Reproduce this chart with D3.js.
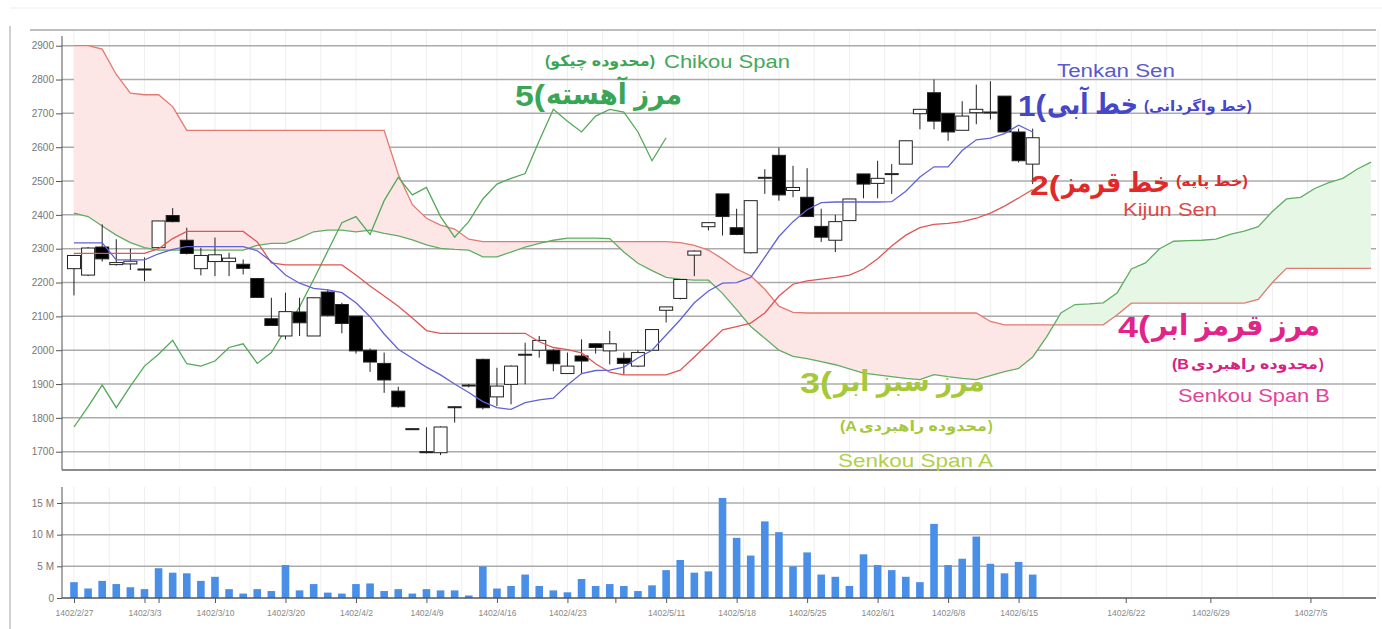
<!DOCTYPE html>
<html><head><meta charset="utf-8">
<script src="https://cdn.jsdelivr.net/npm/d3@7"></script>
<style>
html,body{margin:0;padding:0;background:#fff;}
svg{display:block;font-family:Arial,"Liberation Sans","DejaVu Sans",sans-serif;}
</style></head>
<body><svg id="c" width="1382" height="629"></svg>
<script>
// ---------------- data ----------------
const opens  = [2241,2222,2305,2253,2255,2240,2303,2398,2325,2241,2262,2262,2254,2212,2093,2042,2113,2042,2172,2135,2101,2000,1961,1879,1768,1700,1697,1830,1895,1973,1862,1899,1985,2000,2000,1931,1983,2019,1998,1976,1953,2000,2118,2153,2281,2365,2462,2362,2288,2510,2576,2472,2452,2366,2325,2383,2521,2493,2520,2550,2699,2761,2700,2650,2702,2703,2751,2645,2550];
const highs  = [2282,2305,2372,2328,2300,2274,2382,2420,2362,2303,2333,2288,2268,2212,2155,2170,2155,2155,2180,2140,2101,2005,1993,1892,1770,1772,1775,1835,1900,1975,1948,1955,2022,2042,2003,1993,2032,2020,2057,1993,2000,2061,2128,2210,2295,2378,2462,2418,2442,2535,2599,2545,2538,2418,2400,2447,2521,2560,2550,2619,2712,2800,2700,2736,2785,2795,2751,2655,2655];
const lows   = [2162,2219,2262,2250,2237,2204,2300,2378,2283,2221,2219,2219,2224,2156,2073,2032,2042,2042,2100,2050,1990,1936,1874,1830,1765,1695,1690,1786,1890,1825,1835,1840,1899,1978,1938,1930,1929,1990,1958,1929,1950,1998,2082,2150,2219,2354,2339,2340,2286,2462,2442,2452,2395,2320,2290,2382,2449,2449,2462,2550,2653,2653,2619,2650,2668,2682,2645,2555,2491];
const closes = [2280,2302,2270,2259,2263,2237,2382,2380,2286,2280,2282,2272,2242,2156,2073,2114,2081,2155,2103,2079,1998,1965,1912,1833,1766,1697,1773,1833,1897,1830,1894,1953,1988,2029,1960,1953,1968,2008,2019,1961,1993,2061,2128,2209,2293,2377,2395,2342,2442,2511,2459,2481,2395,2334,2380,2447,2491,2508,2522,2619,2712,2677,2645,2692,2712,2704,2645,2560,2628];
const volumesM = [2.5,1.5,2.7,2.2,1.7,1.4,4.7,4.0,3.9,2.7,3.35,1.4,0.7,1.4,1.1,5.2,1.2,2.2,0.85,0.7,2.2,2.3,1.1,1.4,0.7,1.4,1.2,1.2,0.4,5.0,1.5,1.9,3.7,1.9,1.2,0.9,3.0,1.9,2.2,1.9,1.1,2.0,4.4,6.0,4.0,4.2,15.8,9.5,6.7,12.1,10.4,5.0,7.2,3.7,3.35,1.9,6.9,5.2,4.4,3.35,2.5,11.7,5.2,6.2,9.7,5.4,3.9,5.7,3.7];
const tenkanSen = [2317,2317,2317,2267,2267,2267,2285,2298,2306,2306,2306,2306,2306,2294,2262,2222,2198,2183,2178,2170,2140,2099,2048,2003,1976,1950,1927,1900,1875,1848,1830,1825,1845,1853,1858,1897,1931,1940,1941,1950,1977,2000,2045,2090,2140,2175,2198,2200,2215,2275,2336,2380,2415,2436,2438,2438,2438,2438,2439,2470,2512,2542,2542,2590,2622,2627,2640,2665,2645];
const kijunSen = [2286,2286,2286,2286,2286,2286,2300,2330,2351,2351,2351,2351,2351,2320,2258,2252,2252,2252,2252,2252,2222,2190,2160,2130,2095,2058,2050,2050,2050,2050,2050,2050,2050,2025,2008,2002,1992,1960,1935,1927,1927,1927,1927,1941,1980,2020,2060,2070,2080,2110,2160,2195,2205,2210,2215,2222,2240,2270,2308,2340,2362,2372,2375,2380,2390,2405,2426,2450,2475];
const senkouA = [2405,2395,2367,2340,2318,2303,2296,2296,2296,2296,2296,2296,2296,2310,2316,2316,2331,2350,2355,2355,2350,2355,2345,2338,2326,2311,2301,2298,2296,2276,2276,2290,2305,2316,2325,2331,2331,2331,2330,2290,2257,2235,2215,2210,2207,2207,2168,2120,2070,2035,2000,1982,1975,1966,1957,1945,1932,1927,1922,1917,1913,1928,1922,1917,1913,1925,1937,1946,1980,2040,2110,2135,2137,2140,2170,2240,2258,2300,2322,2324,2325,2328,2342,2352,2365,2410,2447,2452,2478,2495,2508,2535,2556];
const senkouB = [2900,2900,2890,2815,2760,2755,2755,2720,2650,2650,2650,2650,2650,2650,2650,2650,2650,2650,2650,2650,2650,2650,2650,2520,2430,2390,2370,2358,2328,2321,2321,2321,2321,2321,2321,2321,2321,2321,2321,2321,2321,2321,2321,2318,2310,2296,2270,2240,2220,2180,2130,2112,2110,2110,2110,2110,2110,2110,2110,2110,2110,2110,2110,2110,2110,2085,2075,2075,2075,2075,2075,2075,2075,2075,2105,2139,2139,2139,2139,2139,2139,2139,2139,2139,2150,2200,2242,2242,2242,2242,2242,2242,2242];
const chikouSpan = [1773,1833,1897,1830,1894,1953,1988,2029,1960,1953,1968,2008,2019,1961,1993,2061,2128,2209,2293,2377,2395,2342,2442,2511,2459,2481,2395,2334,2380,2447,2491,2508,2522,2619,2712,2677,2645,2692,2712,2704,2645,2560,2628];
const priceTicks = [1700,1800,1900,2000,2100,2200,2300,2400,2500,2600,2700,2800,2900];
const volumeTicks = [0,5,10,15];
const volumeTickLabels = ["0","5 M","10 M","15 M"];
const dateTickPos = [0,5,6,10,15,20,25,30,35,38.4,42,47,52,57,62,67,74.6,80.6,87.7];
const dateTickLabels = ["1402/2/27","1402/3/3","","1402/3/10","1402/3/20","1402/4/2","1402/4/9","1402/4/16","1402/4/23","","1402/5/11","1402/5/18","1402/5/25","1402/6/1","1402/6/8","1402/6/15","1402/6/22","1402/6/29","1402/7/5"];

// ---------------- layout ----------------
const svg = d3.select('#c');
const L = 62, R = 1376, T = 30, B = 470;
const VT = 487, VB = 598;
const x = d3.scaleLinear().domain([-0.85, 92.35]).range([L, R]);
const y = d3.scaleLinear().domain([1700, 2900]).range([451.7, 45.7]);
const yv = d3.scaleLinear().domain([0, 15]).range([VB, 503]);

// outer frame
svg.append('line').attr('x1',10).attr('x2',10).attr('y1',26).attr('y2',629).attr('stroke','#d0d0d0').attr('stroke-width',2);
svg.append('line').attr('x1',10).attr('x2',1382).attr('y1',8).attr('y2',8).attr('stroke','#eeeeee').attr('stroke-width',1);

const defs = svg.append('defs');
defs.append('clipPath').attr('id','plot').append('rect').attr('x',L).attr('y',T).attr('width',R-L).attr('height',B-T);

// vertical faint grid
const vgrid = d3.range(0, 93, 2.5);
[[T,B],[VT,VB]].forEach(([a,b]) => {
  svg.append('g').selectAll('line').data(vgrid).join('line')
    .attr('x1',d=>x(d)).attr('x2',d=>x(d)).attr('y1',a).attr('y2',b)
    .attr('stroke','#efefef').attr('stroke-width',1);
});

// top line
svg.append('line').attr('x1',30).attr('x2',R).attr('y1',T).attr('y2',T).attr('stroke','#a8a8a8').attr('stroke-width',1.5);

// horizontal price grid
svg.append('g').selectAll('line').data(priceTicks).join('line')
  .attr('x1',L).attr('x2',R).attr('y1',d=>y(d)).attr('y2',d=>y(d))
  .attr('stroke','#ababab').attr('stroke-width',1.5);

// price axis
const ya = d3.axisLeft(y).tickValues(priceTicks).tickSize(6).tickFormat(d=>String(d));
const yag = svg.append('g').attr('transform',`translate(${L},0)`).call(ya);
yag.select('.domain').attr('d',`M0,${36}V${B}`).attr('stroke','#555');
yag.selectAll('.tick line').attr('stroke','#555');
yag.selectAll('.tick text').attr('fill','#777').style('font-size','10px').attr('x',-8);

// bottom axis of main chart
svg.append('line').attr('x1',L).attr('x2',R).attr('y1',B).attr('y2',B).attr('stroke','#666').attr('stroke-width',1.5);

const plot = svg.append('g').attr('clip-path','url(#plot)');

// cloud fills
const idxA = senkouA.map((v,i)=>i);
const areaBetween = d3.area().x(i=>x(i)).y0(i=>y(senkouA[i])).y1(i=>y(senkouB[i]));
const aboveA = d3.area().x(i=>x(i)).y0(T-5).y1(i=>y(senkouA[i]));
const belowA = d3.area().x(i=>x(i)).y0(B+5).y1(i=>y(senkouA[i]));
defs.append('clipPath').attr('id','abA').append('path').attr('d',aboveA(idxA));
defs.append('clipPath').attr('id','beA').append('path').attr('d',belowA(idxA));
plot.append('path').attr('d',areaBetween(idxA)).attr('fill','#fde6e6').attr('clip-path','url(#abA)');
plot.append('path').attr('d',areaBetween(idxA)).attr('fill','#e6f7e6').attr('clip-path','url(#beA)');

const line = arr => d3.line().x((d,i)=>x(i)).y(d=>y(d))(arr);
plot.append('path').attr('d',line(senkouB)).attr('fill','none').attr('stroke','#e27a72').attr('stroke-width',1.3);
plot.append('path').attr('d',line(senkouA)).attr('fill','none').attr('stroke','#5fae63').attr('stroke-width',1.3);
plot.append('path').attr('d',line(chikouSpan)).attr('fill','none').attr('stroke','#55a85a').attr('stroke-width',1.3);

// candles
const bw = 13;
const cg = plot.append('g');
const cand = cg.selectAll('g').data(opens.map((o,i)=>({i,o,h:highs[i],l:lows[i],c:closes[i]}))).join('g');
cand.append('line').attr('x1',d=>x(d.i)).attr('x2',d=>x(d.i)).attr('y1',d=>y(d.h)).attr('y2',d=>y(d.l)).attr('stroke','#222').attr('stroke-width',1);
cand.append('rect').attr('x',d=>x(d.i)-bw/2).attr('width',bw)
  .attr('y',d=>y(Math.max(d.o,d.c))).attr('height',d=>Math.max(1,Math.abs(y(d.o)-y(d.c))))
  .attr('fill',d=>d.c>=d.o?'#ffffff':'#000000').attr('stroke','#222').attr('stroke-width',1);

plot.append('path').attr('d',line(kijunSen)).attr('fill','none').attr('stroke','#e05555').attr('stroke-width',1.3);
plot.append('path').attr('d',line(tenkanSen)).attr('fill','none').attr('stroke','#6262d8').attr('stroke-width',1.3);

// ---------------- volume panel ----------------
svg.append('g').selectAll('line').data(volumeTicks.slice(1)).join('line')
  .attr('x1',L).attr('x2',R).attr('y1',d=>yv(d)).attr('y2',d=>yv(d))
  .attr('stroke','#ababab').attr('stroke-width',1.5);
svg.append('g').selectAll('rect').data(volumesM).join('rect')
  .attr('x',(d,i)=>x(i)-3.8).attr('width',7.6)
  .attr('y',d=>yv(d)).attr('height',d=>VB-yv(d)).attr('fill','#4a8fe7');
const va = d3.axisLeft(yv).tickValues(volumeTicks).tickSize(5).tickFormat((d,i)=>volumeTickLabels[i]);
const vag = svg.append('g').attr('transform',`translate(${L},0)`).call(va);
vag.select('.domain').attr('d',`M0,${VT}V${VB}`).attr('stroke','#555');
vag.selectAll('.tick line').attr('stroke','#555');
vag.selectAll('.tick text').attr('fill','#777').style('font-size','10px').attr('x',-8);
svg.append('line').attr('x1',L).attr('x2',R).attr('y1',VB).attr('y2',VB).attr('stroke','#555').attr('stroke-width',1.5);
const xa = d3.axisBottom(x).tickValues(dateTickPos).tickSize(5).tickFormat((d,i)=>dateTickLabels[i]);
const xag = svg.append('g').attr('transform',`translate(0,${VB})`).call(xa);
xag.select('.domain').remove();
xag.selectAll('.tick line').attr('stroke','#555');
xag.selectAll('.tick text').attr('fill','#888').style('font-size','8.5px').attr('y',12);

// ---------------- annotations ----------------
const ann = svg.append('g');
// text stretched/compressed horizontally to the width seen in the reference
function put(px, py, color, txt, size, weight, len){
  const t = ann.append('text').attr('x',0).attr('y',0).attr('fill',color)
    .attr('direction','ltr').style('font-size',size+'px').style('font-weight',weight||'normal').text(txt);
  let sx = 1;
  if (len) { const w = t.node().getComputedTextLength(); if (w > 0) sx = len / w; }
  t.attr('transform',`translate(${px},${py}) scale(${sx.toFixed(4)},1)`);
  return t;
}
const G5 = '#3aa655', BL = '#4646c8', RD = '#e02a2a', PK = '#e0248a', YG = '#a6c83a';
// 5 - Chikou
put(545, 66, G5, '(محدوده چیکو)', 15, 'bold', 110);
put(664, 68, '#45a85a', 'Chikou Span', 18, 'normal', 126);
put(515, 106, G5, '5(', 29, 'bold', 30);
put(546, 104, G5, 'مرز آهسته', 29, 'bold', 136);
// 1 - Tenkan
put(1057, 77, '#5a5acc', 'Tenkan Sen', 18, 'normal', 118);
put(1018, 116, BL, '1(', 29, 'bold', 28);
put(1047, 114, BL, 'خط آبی', 29, 'bold', 91);
put(1144, 111, BL, '(خط واگردانی)', 14, 'bold', 108);
// 2 - Kijun
put(1030, 195, RD, '2(', 28, 'bold', 30);
put(1062, 192, RD, 'خط قرمز', 28, 'bold', 108);
put(1176, 186, RD, '(خط پایه)', 14, 'bold', 72);
put(1123, 216, '#e04848', 'Kijun Sen', 18, 'normal', 94);
// 4 - Senkou B
put(1118, 337, PK, '4(', 29, 'bold', 32);
put(1152, 335, PK, 'مرز قرمز ابر', 29, 'bold', 168);
put(1172, 369, '#d6237f', '(B', 14, 'bold', 17);
put(1191, 369, '#d6237f', 'محدوده راهبردی', 14, 'bold', 127);
put(1319, 369, '#d6237f', ')', 14, 'bold');
put(1178, 402, '#e0449a', 'Senkou Span B', 18, 'normal', 152);
// 3 - Senkou A
put(800, 393, YG, '3(', 29, 'bold', 32);
put(834, 391, YG, 'مرز سبز ابر', 29, 'bold', 151);
put(840, 431, YG, '(A', 14, 'bold', 17);
put(859, 431, YG, 'محدوده راهبردی', 14, 'bold', 128);
put(988, 431, YG, ')', 14, 'bold');
put(838, 467, '#b2d04a', 'Senkou Span A', 18, 'normal', 155);
</script>
</body></html>
